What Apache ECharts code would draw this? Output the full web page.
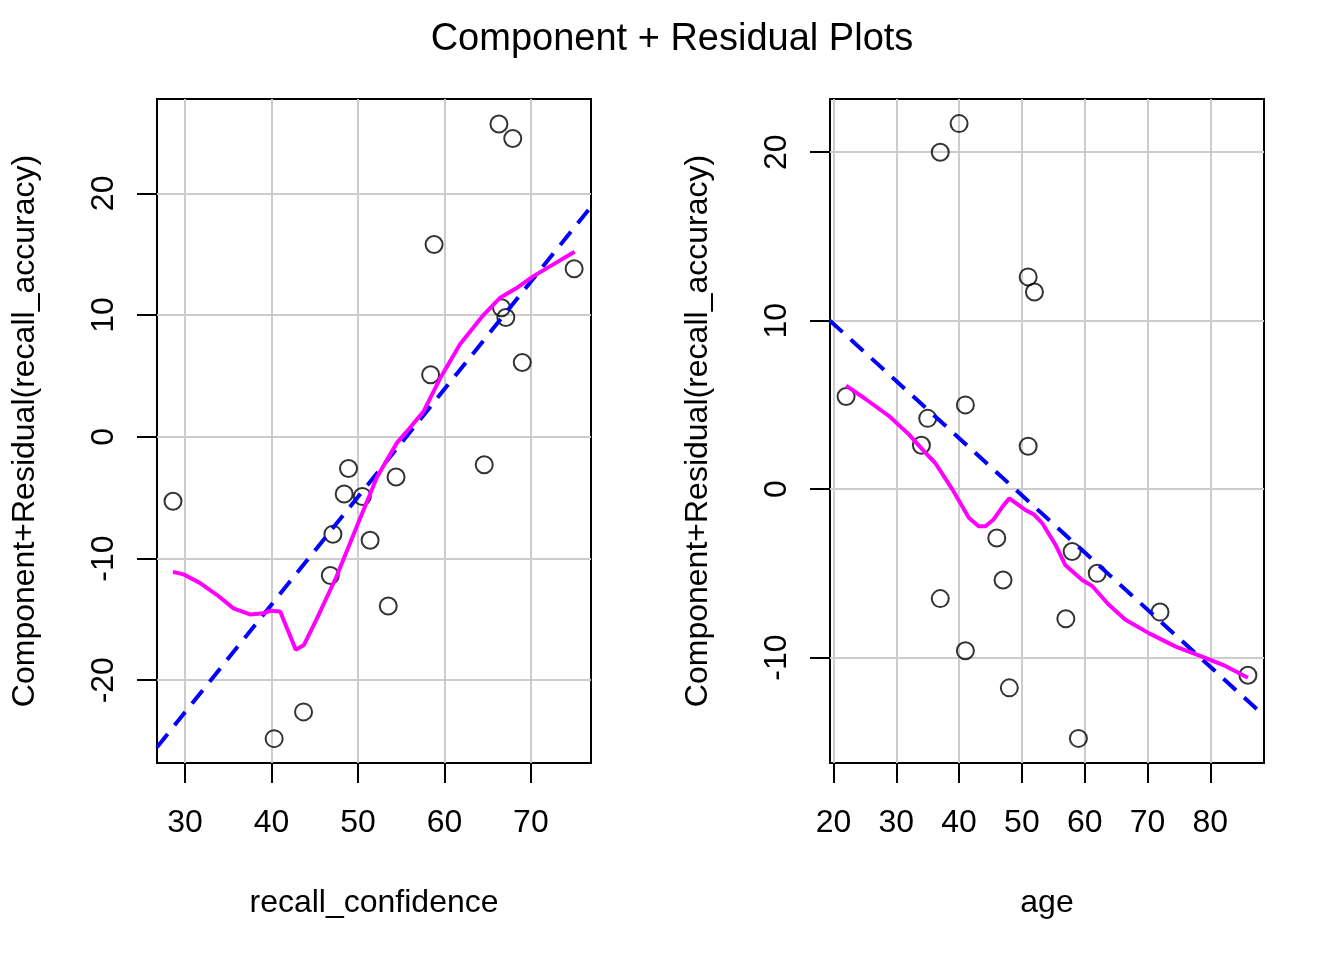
<!DOCTYPE html>
<html>
<head>
    <meta charset="utf-8">
    <title>Component + Residual Plots</title>
    <script src="https://cdn.jsdelivr.net/npm/echarts@6/dist/echarts.min.js"></script>
    <style type="text/css">
        html, body {
            margin: 0;
            padding: 0;
            background: #ffffff;
        }

        #chart {
            width: 1344px;
            height: 960px;
        }
    </style>
</head>
<body>
<div id="chart"></div>
<script>
    // points: recall_confidence vs component+residual
    var confidence = [28.6, 40.3, 43.7, 46.8, 47.1, 48.4, 48.9, 50.5, 51.4, 53.5,
        54.4, 64.6, 58.4, 58.8, 66.3, 67.9, 66.6, 67.1, 69.0, 75.0];
    var confResid = [-5.3, -24.8, -22.6, -11.4, -8.0, -4.7, -2.6, -4.9, -8.5, -13.9,
        -3.3, -2.3, 5.1, 15.8, 25.7, 24.5, 10.6, 9.8, 6.1, 13.8];

    // points: age vs component+residual
    var age = [40, 37, 51, 52, 22, 41, 35, 34, 51, 46,
        58, 47, 62, 37, 57, 72, 41, 48, 59, 86];
    var ageResid = [21.7, 20.0, 12.6, 11.7, 5.5, 5.0, 4.2, 2.6, 2.55, -2.9,
        -3.7, -5.4, -5.0, -6.5, -7.7, -7.3, -9.6, -11.8, -14.8, -11.05];

    // fitted lines (dashed blue), end points at the plot edges
    var confFitX = [26.75, 76.95];
    var confFitY = [-25.5, 18.9];
    var ageFitX = [19.44, 88.56];
    var ageFitY = [10.0, -13.45];

    // smoothers (magenta)
    var confSmoothX = [28.6, 29.8, 31.7, 33.7, 35.6, 37.5, 39.05, 39.8, 41.0, 42.8, 43.75, 45.2, 47.5,
        49.85, 52.2, 54.5, 55.6, 57.6, 59.5, 61.8, 64.5, 66.4, 68.3, 70.3, 72.2, 75.05];
    var confSmoothY = [-11.1, -11.3, -12.0, -13.0, -14.1, -14.6, -14.5, -14.3, -14.35, -17.5, -17.1, -15.0, -11.5,
        -7.4, -3.3, -0.5, 0.4, 2.1, 4.8, 7.6, 10.0, 11.4, 12.2, 13.2, 14.0, 15.2];
    var ageSmoothX = [22, 25.1, 28.8, 32.0, 34.65, 36.2, 38.9, 41.55, 43.1, 44.2, 45.5, 46.9, 48.0, 50.6,
        51.9, 53.2, 55.35, 56.9, 59.6, 61.2, 63.8, 66.5, 70.2, 74.5, 78.7, 82.4, 86];
    var ageSmoothY = [6.15, 5.35, 4.35, 3.25, 2.15, 1.55, 0, -1.7, -2.2, -2.2, -1.8, -1.05, -0.55, -1.25,
        -1.5, -2.0, -3.3, -4.5, -5.4, -5.75, -6.85, -7.75, -8.55, -9.35, -9.95, -10.5, -11.2];

    // tick labels
    var confTicks = [30, 40, 50, 60, 70];
    var confResidTicks = [-20, -10, 0, 10, 20];
    var ageTicks = [20, 30, 40, 50, 60, 70, 80];
    var ageResidTicks = [-10, 0, 10, 20];

    function pairs(xs, ys) {
        var out = [];
        for (var i = 0; i < xs.length; i++) {
            out.push([xs[i], ys[i]]);
        }
        return out;
    }

    var FONT = '"Liberation Sans", Arial, Helvetica, sans-serif';
    var FS = 32;

    function xAxisFor(idx, name, min, max, ticks) {
        return {
            gridIndex: idx,
            type: 'value',
            min: min,
            max: max,
            name: name,
            nameLocation: 'middle',
            nameGap: 124,
            nameTextStyle: {color: '#000', fontSize: FS, fontFamily: FONT},
            axisLine: {show: false, onZero: false},
            axisTick: {show: true, inside: false, length: 20, customValues: ticks,
                lineStyle: {color: '#000', width: 2}},
            axisLabel: {color: '#000', fontSize: FS, fontFamily: FONT, margin: 44, customValues: ticks},
            splitLine: {show: true, lineStyle: {color: '#cccccc', width: 2}}
        };
    }

    function yAxisFor(idx, name, min, max, ticks) {
        return {
            gridIndex: idx,
            type: 'value',
            min: min,
            max: max,
            name: name,
            nameLocation: 'middle',
            nameGap: 116,
            nameTextStyle: {color: '#000', fontSize: FS, fontFamily: FONT},
            axisLine: {show: false, onZero: false},
            axisTick: {show: true, inside: false, length: 20, customValues: ticks,
                lineStyle: {color: '#000', width: 2}},
            axisLabel: {color: '#000', fontSize: FS, fontFamily: FONT, margin: 37, rotate: 90, customValues: ticks},
            splitLine: {show: true, lineStyle: {color: '#cccccc', width: 2}}
        };
    }

    function pointSeries(idx, data) {
        return {
            type: 'scatter',
            xAxisIndex: idx,
            yAxisIndex: idx,
            data: data,
            symbol: 'circle',
            symbolSize: 17,
            itemStyle: {color: 'rgba(0,0,0,0)', borderColor: '#000', borderWidth: 2},
            z: 2
        };
    }

    function lineSeries(idx, data, color, width, dashed) {
        return {
            type: 'line',
            xAxisIndex: idx,
            yAxisIndex: idx,
            data: data,
            showSymbol: false,
            smooth: false,
            clip: true,
            lineStyle: {color: color, width: width, type: dashed ? [17, 11] : 'solid'},
            z: 3
        };
    }

    var chart = echarts.init(document.getElementById('chart'), null, {renderer: 'canvas'});
    var option = {
        backgroundColor: '#ffffff',
        animation: false,
        title: {
            text: 'Component + Residual Plots',
            left: 'center',
            top: 16,
            textStyle: {color: '#000', fontSize: 38, fontWeight: 'normal', fontFamily: FONT}
        },
        grid: [
            {left: 157, top: 99, width: 434, height: 664, show: true, borderColor: '#000', borderWidth: 2,
                backgroundColor: 'transparent'},
            {left: 830, top: 99, width: 434, height: 664, show: true, borderColor: '#000', borderWidth: 2,
                backgroundColor: 'transparent'}
        ],
        xAxis: [
            xAxisFor(0, 'recall_confidence', 26.75, 76.95, confTicks),
            xAxisFor(1, 'age', 19.44, 88.56, ageTicks)
        ],
        yAxis: [
            yAxisFor(0, 'Component+Residual(recall_accuracy)', -26.8, 27.75, confResidTicks),
            yAxisFor(1, 'Component+Residual(recall_accuracy)', -16.26, 23.16, ageResidTicks)
        ],
        series: [
            pointSeries(0, pairs(confidence, confResid)),
            lineSeries(0, pairs(confFitX, confFitY), '#0000ff', 4, true),
            lineSeries(0, pairs(confSmoothX, confSmoothY), '#ff00ff', 4, false),
            pointSeries(1, pairs(age, ageResid)),
            lineSeries(1, pairs(ageFitX, ageFitY), '#0000ff', 4, true),
            lineSeries(1, pairs(ageSmoothX, ageSmoothY), '#ff00ff', 4, false)
        ]
    };
    chart.setOption(option);
</script>
</body>
</html>
